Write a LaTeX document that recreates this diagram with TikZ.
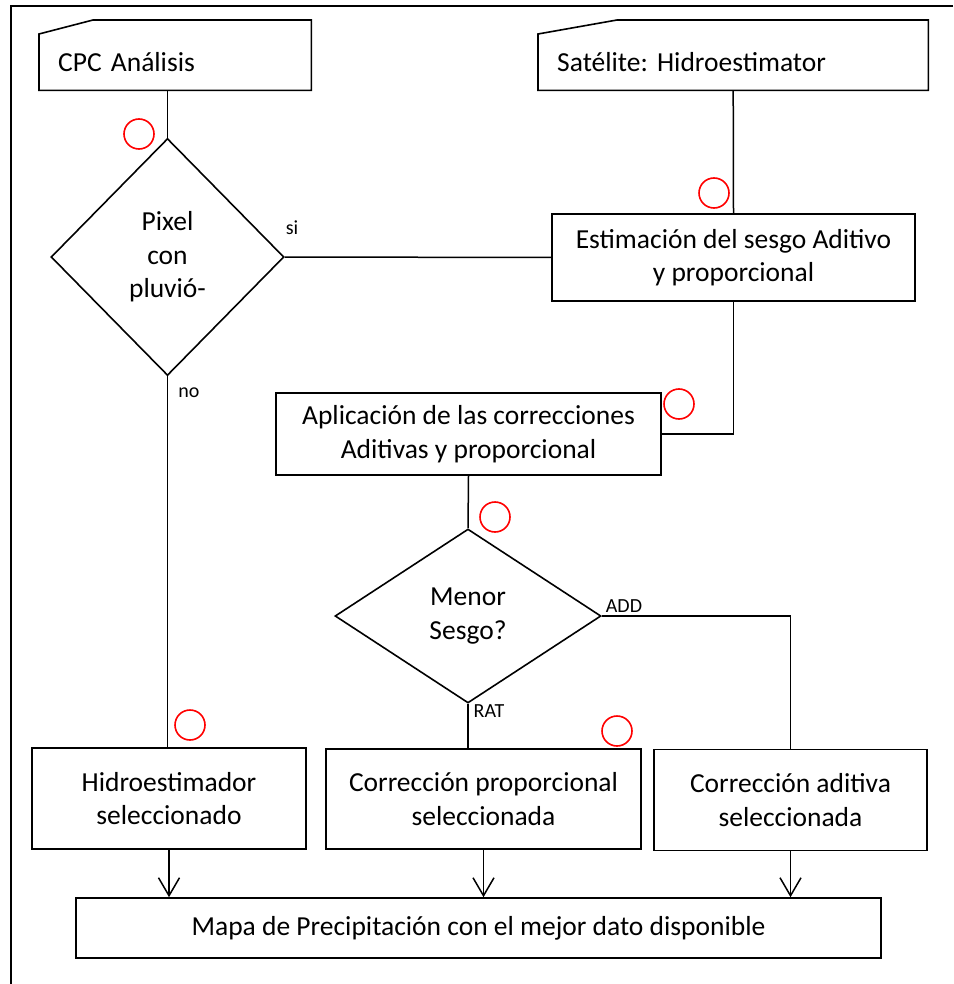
\documentclass[tikz,border=0pt]{standalone}
\usepackage{fontspec}
\setmainfont{Carlito}
\frenchspacing
\usetikzlibrary{shapes.geometric,arrows.meta}
\begin{document}
\begin{tikzpicture}[x=1pt,y=-1pt,
  every node/.style={font=\fontsize{27.5}{33.5}\selectfont},
  box/.style={draw, line width=1.6pt, rectangle, align=center, inner sep=0pt},
  card/.style={anchor=north west, minimum height=70pt, inner xsep=19pt, inner ysep=0pt,
               text height=32pt, text depth=0pt, align=left},
  outline/.style={line width=1.6pt, line join=miter},
  decision/.style={draw, diamond, line width=1.6pt, inner sep=0pt, align=center},
  conn/.style={line width=1.5pt},
  arr/.style={line width=1.5pt, -{Straight Barb[length=18pt,width=21pt]}},
  lbl/.style={font=\fontsize{20}{24}\selectfont, inner sep=0pt},
  redring/.style={draw=red, circle, line width=1.6pt, minimum size=30pt, inner sep=0pt},
  frame/.style={line width=1.8pt}
]
\useasboundingbox (0,0) rectangle (953,984);

% outer frame (only top and left edges visible)
\coordinate (ftr) at (953,6);
\coordinate (ftl) at (11,6);
\coordinate (fbl) at (11,984);
\draw[frame] (ftr) -- (ftl) -- (fbl);

% input cards
\node[card, text width=234pt] (cpc) at (39,20) {CPC Análisis};
\draw[outline] (cpc.south west) -- ([yshift=-14pt]cpc.north west) -- ([xshift=54pt]cpc.north west)
  -- (cpc.north east) -- (cpc.south east) -- cycle;
\node[card, text width=352pt] (sat) at (538,20) {Satélite: Hidroestimator};
\draw[outline] (sat.south west) -- ([yshift=-14pt]sat.north west) -- ([xshift=79pt]sat.north west)
  -- (sat.north east) -- (sat.south east) -- cycle;

% decisions
\node[decision, minimum width=233pt, minimum height=237pt] (d1) at (167.5,257) {Pixel\\con\\pluvió-};
\node[decision, minimum width=266pt, minimum height=174pt] (d2) at (468,616) {Menor\\Sesgo?};

% process boxes
\node[box, minimum width=363pt, minimum height=87pt] (est) at (733.5,257.5) {Estimación del sesgo Aditivo\\y proporcional};
\node[box, minimum width=385pt, minimum height=82pt] (apl) at (468.5,434) {Aplicación de las correcciones\\Aditivas y proporcional};
\node[box, minimum width=274pt, minimum height=101pt] (hid) at (169,798.5) {Hidroestimador\\seleccionado};
\node[box, minimum width=315pt, minimum height=100pt] (prop) at (483.5,799) {Corrección proporcional\\seleccionada};
\node[box, minimum width=273pt, minimum height=101pt] (adi) at (790.5,800) {Corrección aditiva\\seleccionada};
\node[box, minimum width=805pt, minimum height=60pt] (mapa) at (478.5,928) {Mapa de Precipitación con el mejor dato disponible};

% connectors
\draw[conn] (d1.north |- cpc.south) -- (d1.north);
\draw[conn] (sat.south) -- (est.north);
\draw[conn] (d1.east) -- (est.west);
\draw[conn] (est.south) |- (apl.east);
\draw[conn] (apl.south) -- (d2.north);
\draw[conn] (d2.east) -| (adi.north);
\draw[conn] (d2.south) -- (d2.south |- prop.north);
\draw[conn] (d1.south) -- (d1.south |- hid.north);
\draw[arr] (hid.south) -- (hid.south |- mapa.north);
\draw[arr] (prop.south) -- (prop.south |- mapa.north);
\draw[arr] (adi.south) -- (adi.south |- mapa.north);

% branch labels
\node[lbl] (lsi) at (292,228) {si};
\node[lbl] (lno) at (189,393) {no};
\node[lbl] (ladd) at (624,606) {ADD};
\node[lbl] (lrat) at (489,711) {RAT};

% red annotation circles
\node[redring] (r1) at (139,134) {};
\node[redring] (r2) at (714,193) {};
\node[redring] (r3) at (679,404) {};
\node[redring] (r4) at (495,517) {};
\node[redring] (r5) at (617,731) {};
\node[redring] (r6) at (190,725) {};
\end{tikzpicture}
\end{document}
